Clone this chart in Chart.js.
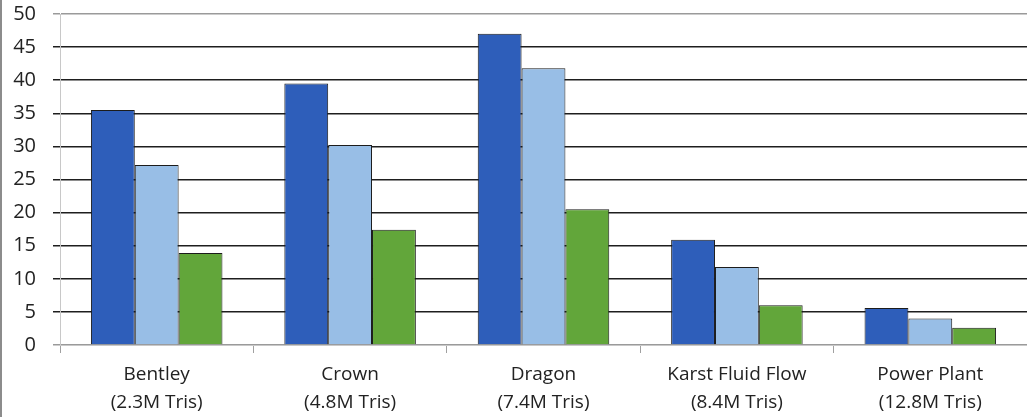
<!DOCTYPE html>
<html>
<head>
<meta charset="utf-8">
<script src="https://cdn.jsdelivr.net/npm/chart.js@4"></script>
<style>
  html, body { margin: 0; padding: 0; background: #fff; }
  #wrap { width: 1025px; height: 417px; border-left: 2px solid #8c8c8c; }
</style>
</head>
<body>
<div id="wrap"><canvas id="chart" width="1025" height="417"></canvas></div>
<script>
const categories = [
  ['Bentley', '(2.3M Tris)'],
  ['Crown', '(4.8M Tris)'],
  ['Dragon', '(7.4M Tris)'],
  ['Karst Fluid Flow', '(8.4M Tris)'],
  ['Power Plant', '(12.8M Tris)']
];
const seriesA = [35.5, 39.5, 47.0, 15.9, 5.6];
const seriesB = [27.2, 30.2, 41.8, 11.8, 4.0];
const seriesC = [13.9, 17.4, 20.5, 6.0, 2.6];

const colors = {
  dark: 'rgb(46, 94, 186)',
  light: 'rgb(152, 190, 230)',
  green: 'rgb(98, 166, 58)'
};

const font = { family: '"Open Sans", "Noto Sans", sans-serif', size: 20 };

function ds(data, color) {
  return {
    data,
    backgroundColor: color,
    borderColor: '#1c1c1c',
    borderWidth: 1,
    borderSkipped: 'bottom',
    categoryPercentage: 0.68,
    barPercentage: 1.0
  };
}

new Chart(document.getElementById('chart'), {
  type: 'bar',
  data: {
    labels: categories,
    datasets: [ds(seriesA, colors.dark), ds(seriesB, colors.light), ds(seriesC, colors.green)]
  },
  options: {
    responsive: false,
    animation: false,
    layout: { padding: { top: 14, right: 0, left: 0, bottom: 0 } },
    plugins: { legend: { display: false }, tooltip: { enabled: false } },
    scales: {
      x: {
        grid: {
          offset: true,
          drawOnChartArea: false,
          drawTicks: true,
          tickLength: 8,
          color: '#a0a0a0'
        },
        border: { display: true, color: '#c8c8c8' },
        ticks: { color: '#222', font: { ...font, size: 19, lineHeight: 1.45 }, padding: 8, maxRotation: 0 },
        afterFit: (s) => { s.height = 72; s.paddingLeft = 0; s.paddingRight = 0; }
      },
      y: {
        min: 0,
        max: 50,
        ticks: { stepSize: 5, color: '#222', font, padding: 17 },
        grid: {
          tickLength: 7,
          lineWidth: 1.5,
          color: (c) => (c.tick && (c.tick.value === 50 || c.tick.value === 0)) ? '#9a9a9a' : '#1e1e1e'
        },
        border: { display: true, color: '#c8c8c8' },
        afterFit: (s) => { s.width = 58; s.paddingTop = 0; s.paddingBottom = 0; }
      }
    }
  }
});
</script>
</body>
</html>
